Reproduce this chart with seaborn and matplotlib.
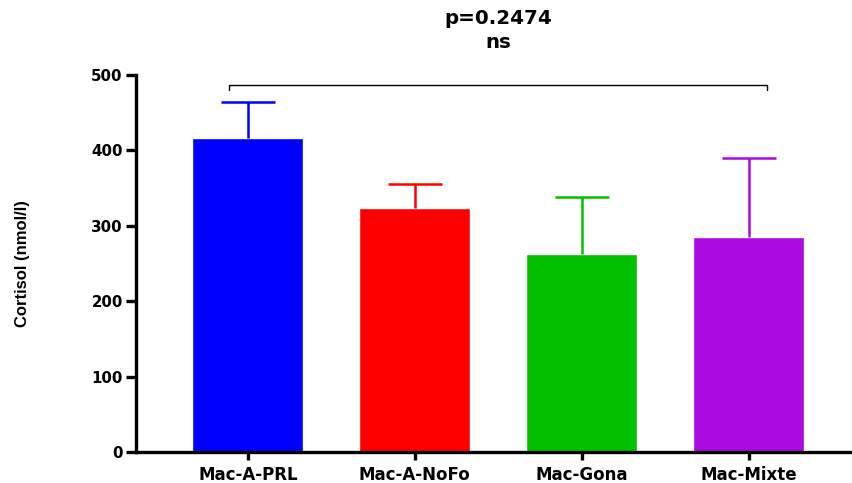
import numpy as np
import matplotlib
matplotlib.use("Agg")
import matplotlib.pyplot as plt
import seaborn as sns

groups = ["Mac-A-PRL", "Mac-A-NoFo", "Mac-Gona", "Mac-Mixte"]
means = [416, 324, 262, 285]
upper_err = [48, 32, 76, 105]
colors = ["#0000FF", "#FF0000", "#00C000", "#AA0ADF"]
y_ticks = [0, 100, 200, 300, 400, 500]
p_text = "p=0.2474"
sig_text = "ns"

sns.set_style("white")
plt.rcParams["font.family"] = ["DejaVu Sans"]
plt.rcParams["font.weight"] = "bold"
plt.rcParams["text.color"] = "black"
plt.rcParams["xtick.color"] = "black"
plt.rcParams["ytick.color"] = "black"
plt.rcParams["axes.labelcolor"] = "black"

fig = plt.figure(figsize=(8.52, 4.83), dpi=100)
ax = fig.add_axes([136 / 852, 1 - 452 / 483, 1 - 136 / 852, (452 - 75) / 483])

sns.barplot(x=groups, y=means, hue=groups, palette=colors, legend=False,
            width=0.665, saturation=1, errorbar=None, ax=ax)

# one-sided (upper) error bars
for i, (m, e, c) in enumerate(zip(means, upper_err, colors)):
    _, caps, _ = ax.errorbar(i, m, yerr=[[0], [e]], fmt="none", ecolor=c,
                             elinewidth=1.8, capsize=19.5, capthick=1.8,
                             zorder=1)
    caps[0].set_visible(False)

ax.set_ylim(0, 500)
ax.set_xlim(-0.67, 3.62)
ax.set_yticks(y_ticks)
ax.set_yticklabels([str(t) for t in y_ticks], fontsize=10.8, fontweight="bold")
ax.set_xticks(range(len(groups)))
ax.set_xticklabels(groups, fontsize=12, fontweight="bold")
ax.set_ylabel("Cortisol (nmol/l)", fontsize=12, fontweight="bold",
              family=["Liberation Sans", "DejaVu Sans"])
ax.yaxis.set_label_coords(-(136 - 30) / (852 - 136), 0.5)
ax.set_xlabel("")

for side in ["top", "right"]:
    ax.spines[side].set_visible(False)
for side in ["left", "bottom"]:
    ax.spines[side].set_linewidth(2.4)
    ax.spines[side].set_color("black")
ax.tick_params(axis="y", direction="out", length=7.5, width=2.4,
               color="black", pad=2, left=True)
ax.tick_params(axis="x", direction="out", length=6, width=2.4,
               color="black", pad=4, bottom=True)

# significance bracket across all groups
bx0, bx1, by, bdrop = -0.11, 3.11, 487, 7
ax.plot([bx0, bx0, bx1, bx1], [by - bdrop, by, by, by - bdrop],
        color="black", lw=1.0, clip_on=False)
xm = (bx0 + bx1) / 2
ax.text(xm, 575, p_text, ha="center", va="center", fontsize=14.3,
        fontweight="bold", clip_on=False)
ax.text(xm, 543, sig_text, ha="center", va="center", fontsize=14.3,
        fontweight="bold", clip_on=False)

fig.savefig("out.png", dpi=100)
